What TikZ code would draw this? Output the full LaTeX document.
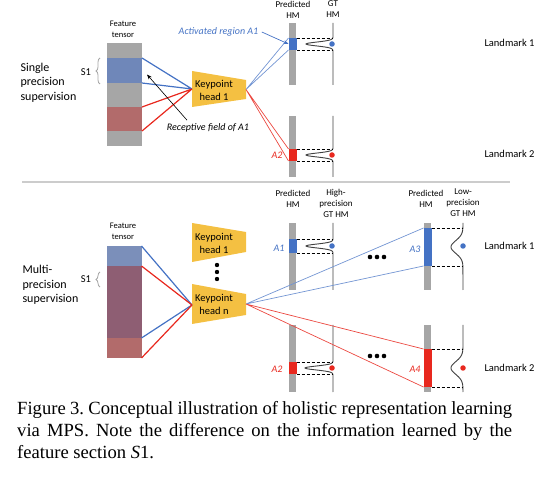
\documentclass[tikz,border=0pt]{standalone}
\usepackage{fontspec}
\setmainfont{Carlito}
\newfontfamily\capfont{Liberation Serif}
\usetikzlibrary{positioning, arrows.meta, decorations.pathreplacing}
\definecolor{tgray}{HTML}{A6A6A6}
\definecolor{tblue}{HTML}{6F87B9}
\definecolor{tblueb}{HTML}{7B8FBA}
\definecolor{tpurple}{HTML}{8E5E73}
\definecolor{tred}{HTML}{B26B6B}
\definecolor{hgold}{HTML}{F4C042}
\definecolor{hblue}{HTML}{4472C4}
\definecolor{hred}{HTML}{E8281E}
\definecolor{gtline}{HTML}{404040}
\tikzset{
  seg/.style={rectangle, inner sep=0pt, outer sep=0pt, minimum width=35pt},
  hmbar/.style={rectangle, fill=tgray, inner sep=0pt, outer sep=0pt, minimum width=7pt},
  hmbox/.style={rectangle, inner sep=0pt, outer sep=0pt, minimum width=8pt},
  head/.style={fill=hgold},
  headtxt/.style={align=center, font=\fontsize{10.5}{13}\selectfont},
  fanblue/.style={hblue, line width=1.2pt},
  fanred/.style={hred, line width=1.2pt},
  thinblue/.style={hblue!75!white, line width=0.7pt},
  thinred/.style={hred!85!white, line width=0.7pt},
  gt/.style={gtline, line width=0.9pt},
  guide/.style={black, line width=0.8pt, dash pattern=on 3pt off 2pt},
  dot/.style={circle, inner sep=0pt, minimum size=5.5pt},
  small/.style={align=center, font=\fontsize{8.5}{11}\selectfont},
  mid/.style={font=\fontsize{10.5}{13}\selectfont},
  side/.style={align=left, anchor=west, font=\fontsize{12}{14.5}\selectfont},
  tag/.style={font=\fontsize{10}{12}\selectfont\itshape},
  brc/.style={gray!70, line width=0.8pt, decorate, decoration={brace, amplitude=4pt}},
}

\begin{document}
\begin{tikzpicture}[x=1pt, y=-1pt]
  \useasboundingbox (0,0) rectangle (541,478);

  % ---- single precision supervision ----
  \node[side] (sps) at (17,82.5) {Single\\precision\\supervision};
  \node[small] (ftA) at (123,29.5) {Feature\\tensor};
  \node[seg, fill=tgray, minimum height=103pt] (tenA) at (124.5,94.5) {};
  \node[seg, fill=tblue, minimum height=25pt] (s1A) at (124.5,70.5) {};
  \node[seg, fill=tred, minimum height=24pt] (r1A) at (124.5,119) {};
  \draw[brc] (100,84) -- (100,58);
  \node[mid] (s1labA) at (86,72) {S1};

  \fill[head] (192,71) -- (246,80) -- (246,99) -- (192,107) -- cycle;
  \node[headtxt] (kh1) at (214,90) {Keypoint\\head 1};
  \coordinate (kh1in) at (192,89);
  \coordinate (kh1out) at (246,89.5);

  \draw[fanblue] (s1A.north east) -- (kh1in) (s1A.south east) -- (kh1in);
  \draw[fanred] (r1A.north east) -- (kh1in) (r1A.south east) -- (kh1in);

  \node[small, font=\fontsize{9}{11}\selectfont] (phA) at (293,9.5) {Predicted\\HM};
  \node[small, font=\fontsize{9}{11}\selectfont] (gtA) at (333,9.5) {GT\\HM};
  \node[hmbar, minimum height=62pt] (hm1) at (292.5,54) {};
  \node[hmbox, fill=hblue, minimum height=12pt] (a1) at (292.5,44) {};
  \node[hmbar, minimum height=61pt] (hm2) at (292.5,146.5) {};
  \node[hmbox, fill=hred, minimum height=12pt] (a2) at (292.5,155) {};

  \coordinate (gt1) at (333,23);
  \draw[gt] (333,23) -- (333,37)
    plot[domain=-7:7, samples=40] ({333-27*exp(-(\x*\x)/7.5)}, {44+\x}) -- (333,85);
  \draw[gt] (333,116) -- (333,148)
    plot[domain=-7:7, samples=40] ({333-27*exp(-(\x*\x)/7.5)}, {155+\x}) -- (333,177);
  \draw[guide] (a1.north east) -- (a1.north east -| gt1);
  \draw[guide] (a1.south east) -- (a1.south east -| gt1);
  \draw[guide] (a2.north east) -- (a2.north east -| gt1);
  \draw[guide] (a2.south east) -- (a2.south east -| gt1);
  \node[dot, fill=hblue] (d1) at (332,44) {};
  \node[dot, fill=hred] (d2) at (332,155) {};

  \draw[thinblue] (kh1out) -- (a1.north west) (kh1out) -- (a1.south west);
  \draw[thinred] (kh1out) -- (a2.north west) (kh1out) -- (a2.south west);

  \node[tag, text=hblue] (act) at (218.5,32) {Activated region A1};
  \draw[hblue, line width=0.7pt, -{Stealth[length=5pt]}] (act.east) -- (a1.west);
  \node[tag] (rf) at (208,128) {Receptive field of A1};
  \draw[line width=0.6pt, -{Stealth[length=5pt]}] ([xshift=-21pt]rf.north)
    -- ([xshift=5pt, yshift=-4pt]s1A.east);
  \node[tag, text=hred] (a2lab) at (277,155) {A2};

  \node[mid, anchor=west] (lm1A) at (481,43) {Landmark 1};
  \node[mid, anchor=west] (lm2A) at (481,154) {Landmark 2};

  % ---- separator ----
  \draw[gray!40, line width=1.2pt] (22,182) -- (510,182);

  % ---- multi-precision supervision ----
  \node[side] (mps) at (19,285) {Multi-\\precision\\supervision};
  \node[small] (ftB) at (123,231.5) {Feature\\tensor};
  \node[seg, fill=tpurple, minimum height=112pt] (tenB) at (124,302) {};
  \node[seg, fill=tblueb, minimum height=20pt] (topB) at (124,256) {};
  \node[seg, fill=tred, minimum height=20pt] (botB) at (124,348) {};
  \draw[brc] (100,287) -- (100,272);
  \node[mid] (s1labB) at (86,279) {S1};

  \fill[head] (192,223) -- (246,232) -- (246,252) -- (192,262) -- cycle;
  \node[headtxt] (kh1B) at (214,243) {Keypoint\\head 1};
  \foreach \y in {265,272,279}
    \fill (217,\y) circle (2.2);
  \fill[head] (192,284) -- (246,294) -- (246,315) -- (192,324) -- cycle;
  \node[headtxt] (khn) at (214,304) {Keypoint\\head n};
  \coordinate (khnin) at (192,305);
  \coordinate (khnout) at (246,304);

  \draw[fanblue] (topB.north east) -- (khnin) (botB.north east) -- (khnin);
  \draw[fanred] (topB.south east) -- (khnin) (botB.south east) -- (khnin);

  \node[small, font=\fontsize{9}{11}\selectfont] (phB) at (293,198.5) {Predicted\\HM};
  \node[small, font=\fontsize{9}{11}\selectfont] (hpB) at (336,203) {High-\\precision\\GT HM};
  \node[small, font=\fontsize{9}{11}\selectfont] (phC) at (426,198.5) {Predicted\\HM};
  \node[small, font=\fontsize{9}{11}\selectfont] (lpC) at (463,203) {Low-\\precision\\GT HM};

  % high-precision column
  \node[hmbar, minimum height=67pt] (hm3) at (292.5,256.5) {};
  \node[hmbox, fill=hblue, minimum height=14pt] (b1) at (292.5,246) {};
  \node[hmbar, minimum height=67pt] (hm4) at (292.5,358.5) {};
  \node[hmbox, fill=hred, minimum height=12pt] (b2) at (292.5,368) {};
  \draw[gt] (333,223) -- (333,239)
    plot[domain=-7:7, samples=40] ({333-27*exp(-(\x*\x)/7.5)}, {246+\x}) -- (333,290);
  \draw[gt] (333,325) -- (333,361)
    plot[domain=-7:7, samples=40] ({333-28*exp(-(\x*\x)/7.5)}, {368+\x}) -- (333,392);
  \draw[guide] (b1.north east) -- (b1.north east -| gt1);
  \draw[guide] (b1.south east) -- (b1.south east -| gt1);
  \draw[guide] (b2.north east) -- (b2.north east -| gt1);
  \draw[guide] (b2.south east) -- (b2.south east -| gt1);
  \node[dot, fill=hblue] (d3) at (332,246) {};
  \node[dot, fill=hred] (d4) at (332,368) {};
  \node[tag, text=hblue] (b1lab) at (279,248) {A1};
  \node[tag, text=hred] (b2lab) at (277,369) {A2};

  \foreach \y in {257,356}
    \foreach \i in {0,1,2}
      \fill (370+7*\i,\y) circle (2.3);

  % low-precision column
  \coordinate (gt2) at (463,223);
  \node[hmbar, minimum height=67pt] (hm5) at (427.5,256.5) {};
  \node[hmbox, fill=hblue, minimum height=38pt] (b3) at (427.5,247) {};
  \node[hmbar, minimum height=67pt] (hm6) at (427.5,358.5) {};
  \node[hmbox, fill=hred, minimum height=38pt] (b4) at (427.5,368) {};
  \draw[gt] (463,223) -- (463,227)
    plot[domain=-20:20, samples=50] ({463-12*exp(-(\x*\x)/80)}, {247+\x}) -- (463,290);
  \draw[gt] (463,325) -- (463,348)
    plot[domain=-20:20, samples=50] ({463-12*exp(-(\x*\x)/80)}, {368+\x}) -- (463,392);
  \draw[guide] (b3.north east) -- (b3.north east -| gt2);
  \draw[guide] (b3.south east) -- (b3.south east -| gt2);
  \draw[guide] (b4.north east) -- (b4.north east -| gt2);
  \draw[guide] (b4.south east) -- (b4.south east -| gt2);
  \node[dot, fill=hblue] (d5) at (463,246) {};
  \node[dot, fill=hred] (d6) at (463,368) {};
  \node[tag, text=hblue] (b3lab) at (415,249) {A3};
  \node[tag, text=hred] (b4lab) at (415,369) {A4};

  \draw[thinblue] (khnout) -- (b3.north west) (khnout) -- (b3.south west);
  \draw[thinred] (khnout) -- (b4.north west) (khnout) -- (b4.south west);

  \node[mid, anchor=west] (lm1B) at (481,246) {Landmark 1};
  \node[mid, anchor=west] (lm2B) at (481,368) {Landmark 2};

  % ---- caption ----
  \node[anchor=north west, inner sep=0pt, text width=495pt, align=justify,
        font=\capfont\fontsize{18.6}{22.2}\selectfont\frenchspacing] (cap) at (17,401)
    {Figure 3. Conceptual illustration of holistic representation learning\linebreak
     via MPS. Note the difference on the information learned by the\linebreak
     feature section \textit{S}1.};
\end{tikzpicture}
\end{document}
